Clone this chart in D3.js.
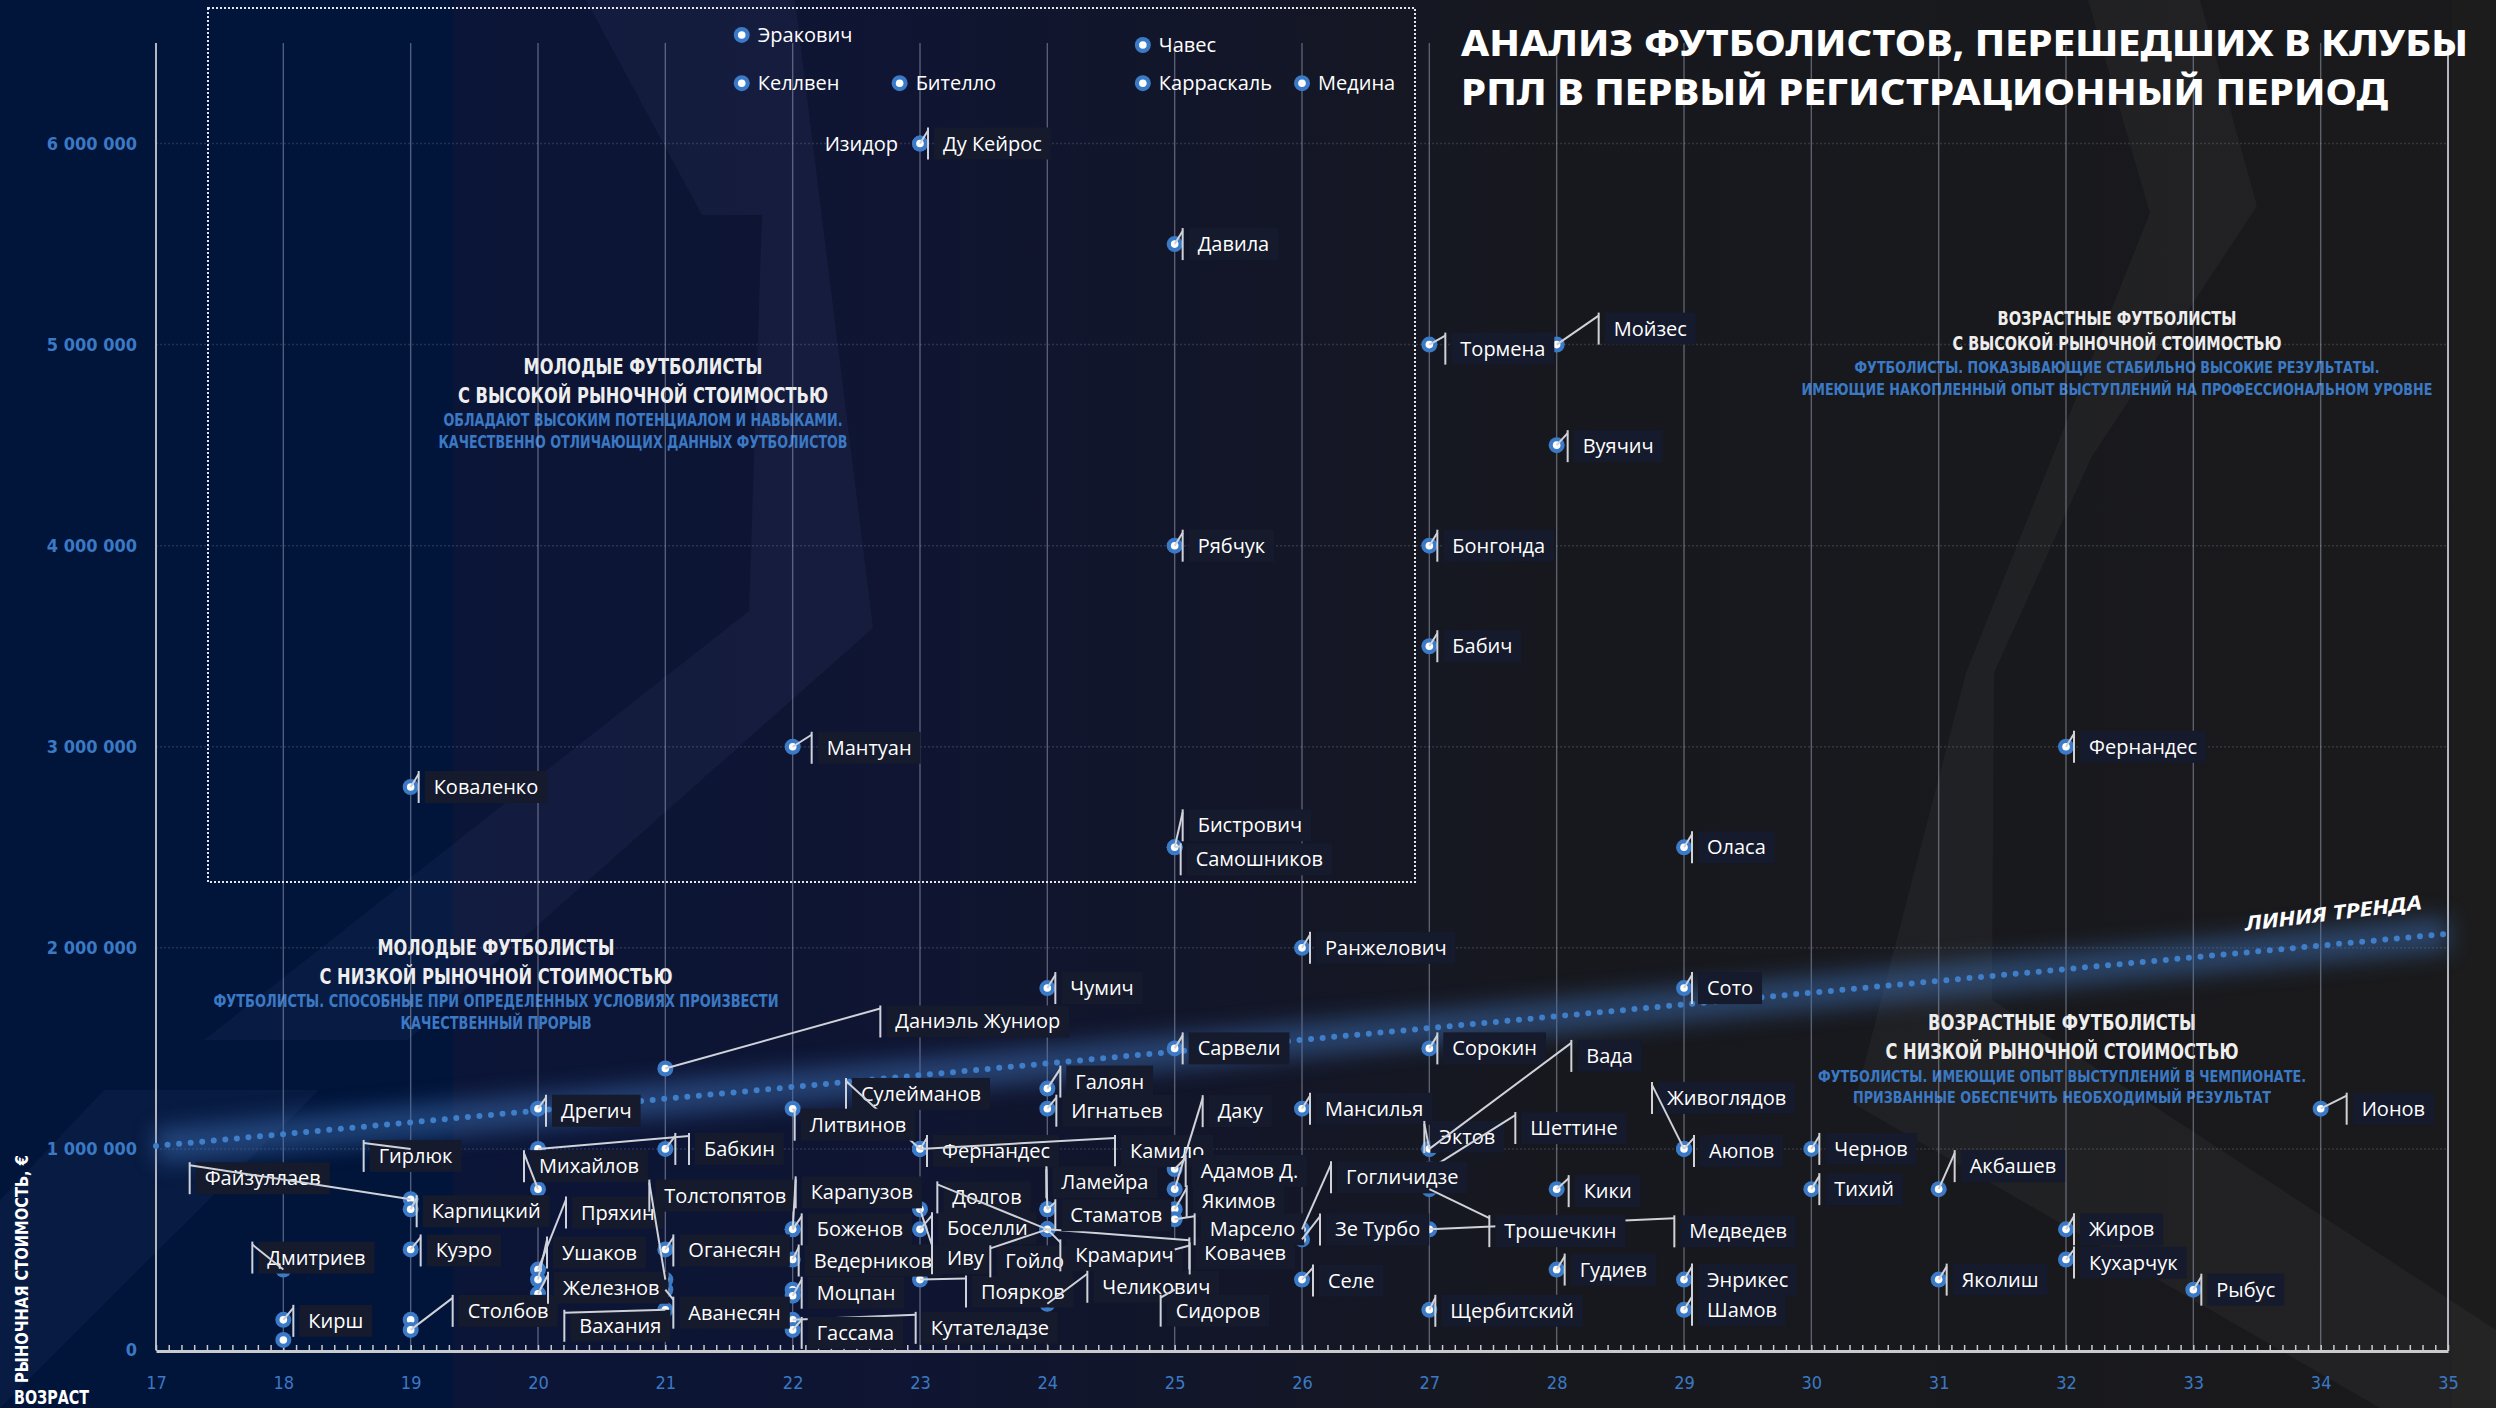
<!DOCTYPE html>
<html>
<head>
<meta charset="utf-8">
<script src="https://cdn.jsdelivr.net/npm/d3@7/dist/d3.min.js"></script>
<style>
  body { margin: 0; background: #0c1226; }
  svg text { font-family: "Open Sans", "Noto Sans", sans-serif; }
</style>
</head>
<body>
<svg id="chart" width="2496" height="1408"></svg>
<script>
var w = 2496, h = 1408;

// players: name, age, market value in euros
var playerNames = ["Эракович","Келлвен","Бителло","Чавес","Карраскаль","Медина","Изидор","Ду Кейрос",
  "Давила","Тормена","Мойзес","Вуячич","Рябчук","Бонгонда","Бабич","Мантуан","Коваленко","Фернандес",
  "Бистрович","Самошников","Оласа","Ранжелович","Чумич","Сото","Даниэль Жуниор","Сарвели","Сорокин",
  "Дрегич","Сулейманов","Литвинов","Галоян","Игнатьев","Мансилья","Ионов","Эктов","Вада","Шеттине",
  "Живоглядов","Аюпов","Чернов","Тихий","Акбашев","Кики","Гирлюк","Файзуллаев","Карпицкий","Куэро",
  "Дмитриев","Кирш","","","Столбов","","Бабкин","Михайлов","Пряхин","Ушаков","Железнов","Толстопятов",
  "Оганесян","Аванесян","Вахания","Карапузов","Боженов","Ведерников","","Моцпан","Кутателадзе","Гассама",
  "Фернандес","Камило","Иву","Боселли","Поярков","Долгов","Гойло","Крамарич","Ковачев","Стаматов",
  "Ламейра","Челикович","Адамов Д.","Даку","Якимов","Марсело","","Сидоров","Гогличидзе","Зе Турбо",
  "Селе","Медведев","Трошечкин","Щербитский","Гудиев","Энрикес","Шамов","Яколиш","Жиров","Кухарчук","Рыбус"];

var playerAges = [21.6,21.6,22.84,24.75,24.75,26,23,23,
  25,27,28,28,25,27,27,22,19,32,
  25,25,29,26,24,29,21,25,27,
  20,23,22,24,24,26,34,27,27,27,
  29,29,30,30,31,28,19,19,19,19,
  18,18,18,19,19,21,20,20,20,20,20,21,
  21,21,21,22,22,22,22,22,22,22,
  23,23,23,23,23,24,24,24,24,24,
  24,24,25,25,25,25,25,25,26,26,
  26,27,27,27,28,29,29,31,32,32,33];

var playerValues = [6540000,6300000,6300000,6490000,6300000,6300000,6000000,6000000,
  5500000,5000000,5000000,4500000,4000000,4000000,3500000,3000000,2800000,3000000,
  2500000,2500000,2500000,2000000,1800000,1800000,1400000,1500000,1500000,
  1200000,1000000,1200000,1300000,1200000,1200000,1200000,1000000,1000000,900000,
  1000000,1000000,1000000,800000,800000,800000,1000000,750000,700000,500000,
  400000,150000,50000,150000,100000,1000000,1000000,800000,400000,350000,280000,350000,
  500000,300000,200000,600000,600000,450000,300000,270000,150000,100000,
  1000000,1000000,700000,600000,350000,600000,600000,600000,600000,700000,
  700000,230000,900000,800000,700000,650000,500000,300000,600000,550000,
  350000,600000,800000,200000,400000,350000,200000,350000,600000,450000,300000];

// callout bar top relative to the dot (px); "r"/"l" = bare text beside the dot, null = no label
var labelOffsets = ["r","r","r","r","r","r","l",[8,-16],
  [8,-16],[16,-12],[42,-32],[11,-15],[8,-16],[8,-16],[8,-16],[19,-15],[8,-16],[8,-16],
  [8,-38],[6,-4],[8,-16],[8,-16],[8,-16],[8,-16],[215,-63],[8,-16],[8,-16],
  [8,-14],[-74,-71],[2,0],[13,-23],[9,-14],[8,-16],[26,-16],[-5,-28],[142,-109],[86,-57],
  [-32,-67],[10,-14],[8,-16],[8,-16],[16,-39],[12,-14],[-47,-9],[-221,-37],[6,-14],[10,-15],
  [-31,-28],[10,-15],null,null,[42,-35],[10,-16],[151,-16],[-14,-39],[28,-73],[9,-43],[10,-22],[-16,-100],
  [8,-15],[8,7],[-101,0],[3,-53],[9,-16],[6,-15],null,[9,-19],[123,-8],[9,-13],
  [7,-14],[195,-14],[12,33],[12,-17],[46,-4],[-110,-48],[-57,16],[13,10],[142,8],[8,-10],
  [-1,-43],[40,-33],[11,-14],[28,-94],[12,-24],[20,-6],[15,-7],[-14,5],[29,-68],[18,-26],
  [11,-15],[245,-14],[60,26],[6,-15],[8,-16],[8,-16],[8,-16],[8,-16],[8,-16],[8,-13],[8,-16]];

var ageTicks = [17,18,19,20,21,22,23,24,25,26,27,28,29,30,31,32,33,34,35];
var valueTicks = [0,1000000,2000000,3000000,4000000,5000000,6000000];
var trendAges = [17, 35];
var trendValues = [1015000, 2070000];

var titleLines = ["АНАЛИЗ ФУТБОЛИСТОВ, ПЕРЕШЕДШИХ В КЛУБЫ", "РПЛ В ПЕРВЫЙ РЕГИСТРАЦИОННЫЙ ПЕРИОД"];
var quadrantHeads = [
  ["МОЛОДЫЕ ФУТБОЛИСТЫ", "С ВЫСОКОЙ РЫНОЧНОЙ СТОИМОСТЬЮ"],
  ["МОЛОДЫЕ ФУТБОЛИСТЫ", "С НИЗКОЙ РЫНОЧНОЙ СТОИМОСТЬЮ"],
  ["ВОЗРАСТНЫЕ ФУТБОЛИСТЫ", "С ВЫСОКОЙ РЫНОЧНОЙ СТОИМОСТЬЮ"],
  ["ВОЗРАСТНЫЕ ФУТБОЛИСТЫ", "С НИЗКОЙ РЫНОЧНОЙ СТОИМОСТЬЮ"]];
var quadrantNotes = [
  ["ОБЛАДАЮТ ВЫСОКИМ ПОТЕНЦИАЛОМ И НАВЫКАМИ.", "КАЧЕСТВЕННО ОТЛИЧАЮЩИХ ДАННЫХ ФУТБОЛИСТОВ"],
  ["ФУТБОЛИСТЫ. СПОСОБНЫЕ  ПРИ ОПРЕДЕЛЕННЫХ УСЛОВИЯХ ПРОИЗВЕСТИ", "КАЧЕСТВЕННЫЙ ПРОРЫВ"],
  ["ФУТБОЛИСТЫ. ПОКАЗЫВАЮЩИЕ СТАБИЛЬНО ВЫСОКИЕ РЕЗУЛЬТАТЫ.", "ИМЕЮЩИЕ НАКОПЛЕННЫЙ ОПЫТ ВЫСТУПЛЕНИЙ НА ПРОФЕССИОНАЛЬНОМ УРОВНЕ"],
  ["ФУТБОЛИСТЫ. ИМЕЮЩИЕ ОПЫТ ВЫСТУПЛЕНИЙ В ЧЕМПИОНАТЕ.", "ПРИЗВАННЫЕ ОБЕСПЕЧИТЬ НЕОБХОДИМЫЙ РЕЗУЛЬТАТ"]];

// layout of the four quadrant notes: centre x, baselines, line widths, font sizes
var quadrantLayout = [
  {cx: 643,  ys: [374, 403, 426, 448],   widths: [239, 370, 399, 409], head: 22, note: 17},
  {cx: 496,  ys: [955, 984, 1007, 1029], widths: [237, 353, 565, 191], head: 22, note: 17},
  {cx: 2117, ys: [325, 350, 373, 395],   widths: [239, 329, 525, 631], head: 19, note: 15},
  {cx: 2062, ys: [1030, 1059, 1082, 1103], widths: [268, 353, 488, 418], head: 22, note: 16}];

var blue = "#3b79c4";
var x = d3.scaleLinear().domain([17, 35]).range([156, 2448]);
var y = d3.scaleLinear().domain([0, 6500000]).range([1350, 43]);

var svg = d3.select("#chart");
var defs = svg.append("defs");

var bg = defs.append("linearGradient").attr("id", "bg").attr("x1", 0).attr("x2", 1).attr("y1", 0).attr("y2", 0);
[[0, "#011439"], [0.181, "#011439"], [0.182, "#0b1537"], [0.36, "#0f1532"], [0.5, "#131628"],
 [0.62, "#17181e"], [1, "#1a1a1c"]].forEach(function(s){
  bg.append("stop").attr("offset", s[0]).attr("stop-color", s[1]);
});
defs.append("filter").attr("id", "glow").attr("x", "-10%").attr("y", "-200%").attr("width", "120%").attr("height", "500%")
  .append("feGaussianBlur").attr("stdDeviation", 11);

svg.append("rect").attr("width", w).attr("height", h).attr("fill", "url(#bg)");
svg.append("rect").attr("x", 2452).attr("width", 44).attr("height", h).attr("fill", "#1c1c1d");

// faint lightning watermark
svg.append("path").attr("d", "M586,0 L795,0 L873,628 L408,1040 L204,1040 L749,611 L762,215 L702,215 Z")
  .attr("fill", "rgba(140,160,220,0.06)");
svg.append("path").attr("d", "M104,1090 L319,1090 L0,1408 L0,1200 Z")
  .attr("fill", "rgba(140,160,220,0.06)");
svg.append("path").attr("d", "M2088,0 L2200,0 L2257,206 L2091,458 L1994,673 L1992,1000 L2496,1330 L2496,1408 L2380,1408 L1854,1104 L1966,673 L2150,213 Z")
  .attr("fill", "rgba(255,255,255,0.035)");

// quadrant texts
quadrantLayout.forEach(function(q, i){
  var lines = quadrantHeads[i].concat(quadrantNotes[i]);
  lines.forEach(function(t, j){
    svg.append("text")
      .attr("x", q.cx).attr("y", q.ys[j])
      .attr("text-anchor", "middle")
      .attr("textLength", q.widths[j]).attr("lengthAdjust", "spacingAndGlyphs")
      .style("font-family", "'DejaVu Sans Condensed', 'DejaVu Sans', sans-serif")
      .style("font-weight", "bold")
      .style("font-size", (j < 2 ? q.head : q.note) + "px")
      .attr("fill", j < 2 ? "#eeeeee" : blue)
      .text(t);
  });
});

// horizontal dotted grid
svg.selectAll(".hgrid").data(valueTicks.slice(1)).enter().append("line")
  .attr("x1", x(17)).attr("x2", x(35))
  .attr("y1", function(d){ return y(d); }).attr("y2", function(d){ return y(d); })
  .attr("stroke", "rgba(200,210,235,0.16)").attr("stroke-width", 1.5).attr("stroke-dasharray", "2,2");

// vertical grid
svg.selectAll(".vgrid").data(ageTicks).enter().append("line")
  .attr("x1", function(d){ return x(d); }).attr("x2", function(d){ return x(d); })
  .attr("y1", 43).attr("y2", y(0))
  .attr("stroke", function(d){ return (d == 17 || d == 35) ? "#b4b7bf" : "rgba(190,196,214,0.42)"; })
  .attr("stroke-width", function(d){ return (d == 17 || d == 35) ? 2 : 1.4; });

// dotted frame around the "young & expensive" zone
svg.append("rect").attr("x", 208).attr("y", 8).attr("width", 1207).attr("height", 874)
  .attr("fill", "none").attr("stroke", "#e4e6ea").attr("stroke-width", 2).attr("stroke-dasharray", "2,2");

// trend line
var trendData = d3.zip(trendAges, trendValues);
var trendLine = d3.line().x(function(d){ return x(d[0]); }).y(function(d){ return y(d[1]); });
svg.append("path").datum(trendData).attr("d", trendLine)
  .attr("stroke", "#3c6fb5").attr("stroke-width", 34).attr("opacity", 0.5)
  .attr("fill", "none").attr("filter", "url(#glow)");
svg.append("path").datum(trendData).attr("d", trendLine)
  .attr("stroke", "#3f7ec9").attr("stroke-width", 6).attr("stroke-linecap", "round")
  .attr("stroke-dasharray", "0 11.6").attr("fill", "none");
svg.append("text")
  .attr("transform", "translate(2334,920) rotate(-7)")
  .attr("text-anchor", "middle")
  .attr("textLength", 178).attr("lengthAdjust", "spacingAndGlyphs")
  .style("font-family", "'Noto Sans', sans-serif").style("font-weight", "bold")
  .style("font-style", "italic").style("font-size", "20px")
  .attr("fill", "#ffffff").text("ЛИНИЯ ТРЕНДА");

// x axis: minor ticks then labels
var minor = d3.range(170, 351).map(function(d){ return d / 10; });
var xMinor = svg.append("g").attr("transform", "translate(0," + (y(0) + 1) + ")")
  .call(d3.axisBottom(x).tickValues(minor).tickSizeInner(-6).tickSizeOuter(0).tickFormat(""));
xMinor.select(".domain").attr("stroke", "#c9cacd").attr("stroke-width", 3);
xMinor.selectAll(".tick line").attr("stroke", "#c9cacd").attr("stroke-width", 1.5);

var xLab = svg.append("g").attr("transform", "translate(0," + (y(0) + 1) + ")")
  .call(d3.axisBottom(x).tickValues(ageTicks).tickSize(0).tickPadding(25).tickFormat(d3.format("d")));
xLab.select(".domain").remove();
xLab.selectAll("text").attr("fill", blue)
  .style("font-family", "'DejaVu Sans Condensed', sans-serif").style("font-size", "18px");

var yLab = svg.append("g").attr("transform", "translate(137,0)")
  .call(d3.axisLeft(y).tickValues(valueTicks).tickSize(0).tickPadding(0)
    .tickFormat(function(d){ return d3.format(",")(d).replace(/,/g, " "); }));
yLab.select(".domain").remove();
yLab.selectAll("text").attr("fill", blue)
  .style("font-family", "'DejaVu Sans Condensed', sans-serif").style("font-weight", "bold").style("font-size", "18px");

svg.append("text")
  .attr("transform", "translate(28,1383) rotate(-90)")
  .attr("textLength", 228).attr("lengthAdjust", "spacingAndGlyphs")
  .style("font-family", "'DejaVu Sans Condensed', sans-serif").style("font-weight", "bold").style("font-size", "17px")
  .attr("fill", "#ffffff").text("РЫНОЧНАЯ СТОИМОСТЬ, €");
svg.append("text").attr("x", 14).attr("y", 1404)
  .attr("textLength", 75).attr("lengthAdjust", "spacingAndGlyphs")
  .style("font-family", "'DejaVu Sans Condensed', sans-serif").style("font-weight", "bold").style("font-size", "19px")
  .attr("fill", "#ffffff").text("ВОЗРАСТ");

// player dots
var dots = svg.append("g");
playerNames.forEach(function(name, i){
  var px = x(playerAges[i]), py = y(playerValues[i]);
  dots.append("circle").attr("cx", px).attr("cy", py).attr("r", 8).attr("fill", "#3a7ac7");
  dots.append("circle").attr("cx", px).attr("cy", py).attr("r", 3.8).attr("fill", "#ffffff");
});

// callouts
var ann = svg.append("g");
playerNames.forEach(function(name, i){
  var off = labelOffsets[i];
  if (!off) return;
  var px = x(playerAges[i]), py = y(playerValues[i]);
  var g = ann.append("g");
  if (off === "r" || off === "l") {
    g.append("text")
      .attr("x", off === "r" ? px + 16 : px - 22).attr("y", py + 7)
      .attr("text-anchor", off === "r" ? "start" : "end")
      .style("font-size", "20px").attr("fill", "#ffffff").text(name);
    return;
  }
  var bx = px + off[0], by = py + off[1];
  if (name) {
    var box = g.append("rect");
    var t = g.append("text").attr("x", bx + 15).attr("y", by + 23)
      .style("font-size", "20px").attr("fill", "#ffffff").text(name);
    var tw = t.node().getComputedTextLength();
    box.attr("x", bx + 6).attr("y", by).attr("width", tw + 18).attr("height", 32).attr("fill", "#151a2c");
    t.raise();
  }
  g.append("line").attr("x1", bx).attr("x2", bx).attr("y1", by).attr("y2", by + 32)
    .attr("stroke", "#cfd2d8").attr("stroke-width", 2);
  g.append("line").attr("x1", px).attr("y1", py).attr("x2", bx).attr("y2", by + 3)
    .attr("stroke", "#cfd2d8").attr("stroke-width", 2);
});

// title
titleLines.forEach(function(t, i){
  svg.append("text").attr("x", 1461).attr("y", 56 + i * 49)
    .attr("textLength", i == 0 ? 1007 : 927).attr("lengthAdjust", "spacingAndGlyphs")
    .style("font-family", "'Noto Sans', sans-serif").style("font-weight", 800).style("font-size", "36px")
    .attr("fill", "#ffffff").text(t);
});
</script>
</body>
</html>
